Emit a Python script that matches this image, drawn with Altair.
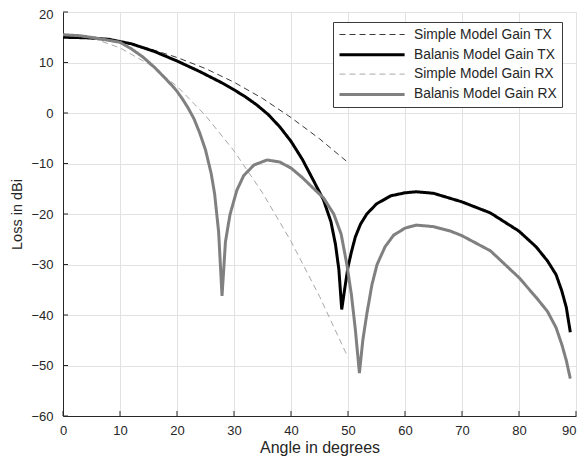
import altair as alt
import pandas as pd

# ---- data ----
series_names = ["Simple Model Gain TX", "Balanis Model Gain TX",
                "Simple Model Gain RX", "Balanis Model Gain RX"]

simple_tx_deg = [0, 5, 10, 15, 20, 25, 30, 35, 40, 45, 50]
simple_tx_db = [15.0, 14.75, 14.1, 12.8, 11.0, 8.8, 6.1, 2.9, -0.9, -5.1, -9.8]

balanis_tx_deg = [0, 4, 8, 12, 16, 20, 24, 28, 30, 32, 34, 36, 38, 40, 42, 44,
                  45.7, 47, 47.8, 48.4, 48.9, 49.4, 50, 50.6, 51.3, 52.2, 53.3,
                  55, 57.5, 60, 62, 65, 70, 75, 80, 83, 85, 86.5, 87.5, 88.3, 89]
balanis_tx_db = [15.0, 14.9, 14.6, 13.7, 12.2, 10.3, 8.2, 5.9, 4.6, 3.2, 1.6,
                 -0.3, -2.7, -5.6, -9.2, -13.5, -17.2, -21.5, -26.0, -31.0,
                 -38.9, -35.0, -30.5, -27.5, -24.5, -22.0, -20.0, -18.0, -16.4,
                 -15.8, -15.6, -15.9, -17.6, -19.8, -23.4, -26.5, -29.3, -32.0,
                 -35.2, -38.5, -43.4]

simple_rx_deg = [0, 5, 10, 15, 20, 25, 30, 35, 40, 45, 50]
simple_rx_db = [15.5, 14.9, 12.9, 9.7, 5.3, -0.5, -7.5, -15.8, -25.4, -36.3, -48.4]

balanis_rx_deg = [0, 3, 6, 9, 10, 12, 14, 16, 18, 19, 20, 21, 22, 23, 24, 25,
                  26, 26.6, 27.3, 27.9, 28.5, 29.3, 30.5, 31.7, 33.5, 35.8, 38,
                  40, 42, 44, 45.7, 47.5, 48.8, 49.8, 50.6, 51.3, 52, 52.6,
                  53.3, 54.2, 55.1, 56.5, 58, 60, 62, 65, 68, 70, 75, 80, 83,
                  85, 86.5, 87.5, 88.3, 89]
balanis_rx_db = [15.5, 15.3, 14.8, 14.2, 14.0, 12.7, 11.1, 9.1, 6.8, 5.6, 4.3,
                 2.7, 0.9, -1.2, -4.0, -7.3, -12.0, -16.0, -23.5, -36.2, -25.5,
                 -20.1, -15.3, -12.4, -10.3, -9.3, -9.7, -10.9, -12.8, -15.0,
                 -16.8, -20.0, -24.0, -30.0, -36.0, -43.0, -51.5, -45.0, -39.8,
                 -34.0, -30.0, -26.5, -24.2, -22.8, -22.2, -22.5, -23.4, -24.3,
                 -27.3, -32.6, -36.5, -39.3, -42.5, -45.8, -49.0, -52.6]

x_ticks = [0, 10, 20, 30, 40, 50, 60, 70, 80, 90]
y_ticks = [-60, -50, -40, -30, -20, -10, 0, 10, 20]

# ---- styles ----
colors = ["#3a3a3a", "#000000", "#a8a8a8", "#808080"]
dashes = [[6, 4], [1, 0], [6, 4], [1, 0]]
widths = [1.0, 3.0, 1.0, 3.0]

rows = []
for name, xs, ys in [
    (series_names[0], simple_tx_deg, simple_tx_db),
    (series_names[1], balanis_tx_deg, balanis_tx_db),
    (series_names[2], simple_rx_deg, simple_rx_db),
    (series_names[3], balanis_rx_deg, balanis_rx_db),
]:
    for i, (a, g) in enumerate(zip(xs, ys)):
        rows.append({"series": name, "angle": a, "gain": g, "idx": i})
df = pd.DataFrame(rows)

W, H = 513, 404
FONT = "Liberation Sans"
TXT = "#262626"

legend = alt.Legend(
    title=None, orient="none", legendX=270, legendY=10,
    symbolType="M-1,0H8.3", symbolSize=196, symbolOffset=0,
    labelOffset=59, labelFont=FONT, labelFontSize=13.8, labelColor=TXT,
    labelLimit=0, padding=5, rowPadding=4.3,
    fillColor="white", strokeColor="#3a3a3a", cornerRadius=0,
)

xscale = alt.Scale(domain=[0, 90], nice=False)
yscale = alt.Scale(domain=[-60, 20], nice=False)

lines = alt.Chart(df).mark_line(clip=True).encode(
    x=alt.X("angle:Q", scale=xscale,
            axis=alt.Axis(values=x_ticks, title="Angle in degrees",
                          labelAlign=alt.condition("datum.value >= 90",
                                                   alt.value("right"),
                                                   alt.value("center")),
                          labelPadding=8, titlePadding=2, titleFontSize=16)),
    y=alt.Y("gain:Q", scale=yscale,
            axis=alt.Axis(values=y_ticks, title="Loss in dBi",
                          labelOffset=alt.condition("datum.value >= 20",
                                                    alt.value(2.5),
                                                    alt.value(0)),
                          labelPadding=10, titlePadding=6, titleFontSize=14.5)),
    color=alt.Color("series:N",
                    scale=alt.Scale(domain=series_names, range=colors),
                    legend=legend),
    strokeDash=alt.StrokeDash("series:N",
                              scale=alt.Scale(domain=series_names, range=dashes),
                              legend=legend),
    strokeWidth=alt.StrokeWidth("series:N",
                                scale=alt.Scale(type="ordinal", domain=series_names, range=widths),
                                legend=legend),
    order="idx:Q",
)

xt = alt.Chart(pd.DataFrame({"v": x_ticks})).mark_rule(color=TXT, strokeWidth=1).encode(
    x=alt.X("v:Q", scale=xscale), y=alt.value(H), y2=alt.value(H - 5))
yt = alt.Chart(pd.DataFrame({"v": y_ticks})).mark_rule(color=TXT, strokeWidth=1).encode(
    y=alt.Y("v:Q", scale=yscale), x=alt.value(0), x2=alt.value(5))

chart = alt.layer(xt, yt, lines).properties(
    width=W, height=H,
    autosize=alt.AutoSizeParams(type="none"),
    padding={"left": 55, "top": 4, "right": 2, "bottom": 45},
).configure_view(stroke=None).configure_axis(
    labelFont=FONT, titleFont=FONT, labelFontSize=13, labelColor=TXT,
    titleColor=TXT, titleFontWeight="normal", domainColor=TXT, domainWidth=1,
    tickSize=0, gridColor="#e2e2e2", gridWidth=1,
)

chart.save("out.html", embed_options={"renderer": "svg", "actions": False})
